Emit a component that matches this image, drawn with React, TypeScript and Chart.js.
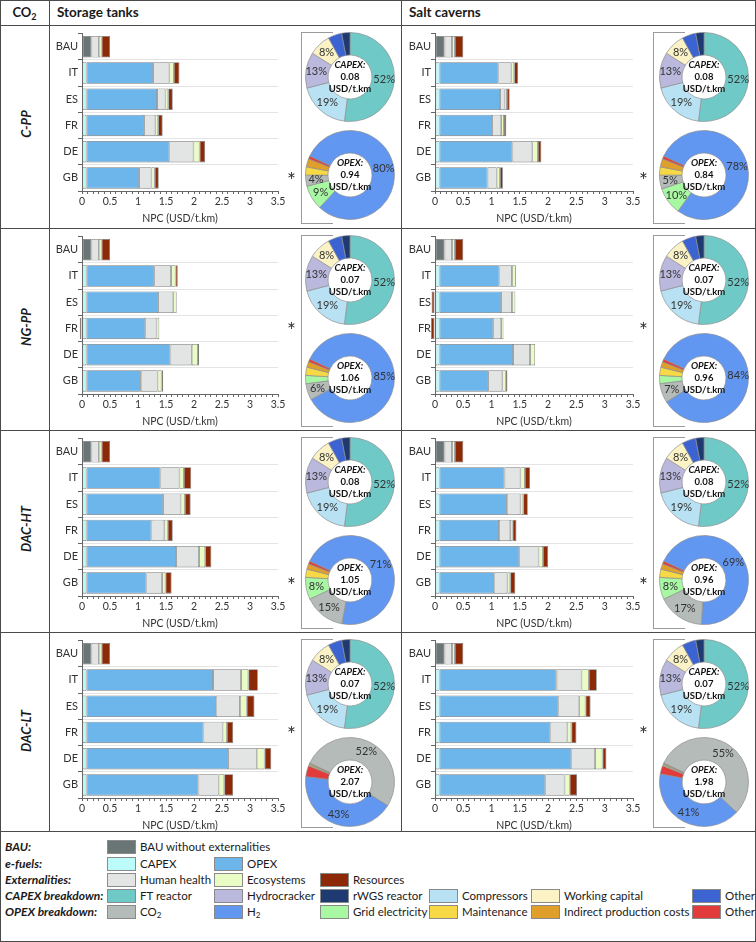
import React, { useEffect, useRef } from "react";
import { Chart, registerables } from "chart.js";

Chart.register(...registerables);

const FONT = "Lato, 'Open Sans', sans-serif";

const countries = ["BAU", "IT", "ES", "FR", "DE", "GB"];
const pathways = ["C-PP", "NG-PP", "DAC-HT", "DAC-LT"];
const storages = ["Storage tanks", "Salt caverns"];
const xTickMax = 3.5;

// BAU bar, identical in every panel
const bauBase = 0.17;
const bauHealth = 0.13;
const bauEco = 0.05;
const bauRes = 0.15;

// e-fuel bars, order: IT, ES, FR, DE, GB
const efuelCapex = [0.08, 0.08, 0.08, 0.08, 0.08];

const cppTankOpex = [1.19, 1.26, 1.03, 1.48, 0.94];
const cppTankHealth = [0.29, 0.15, 0.2, 0.43, 0.22];
const cppTankEco = [0.08, 0.05, 0.05, 0.11, 0.06];
const cppTankRes = [0.1, 0.08, 0.08, 0.1, 0.07];

const cppSaltOpex = [1.04, 1.07, 0.93, 1.29, 0.85];
const cppSaltHealth = [0.23, 0.08, 0.16, 0.35, 0.16];
const cppSaltEco = [0.05, 0.04, 0.05, 0.1, 0.06];
const cppSaltRes = [0.07, 0.05, 0.04, 0.06, 0.05];

const ngppTankOpex = [1.21, 1.28, 1.05, 1.5, 0.97];
const ngppTankHealth = [0.3, 0.27, 0.2, 0.38, 0.3];
const ngppTankEco = [0.08, 0.06, 0.05, 0.11, 0.07];
const ngppTankRes = [0.04, -0.01, -0.04, 0.02, 0.03];

const ngppSaltOpex = [1.06, 1.09, 0.95, 1.3, 0.86];
const ngppSaltHealth = [0.22, 0.19, 0.14, 0.3, 0.25];
const ngppSaltEco = [0.07, 0.06, 0.04, 0.09, 0.06];
const ngppSaltRes = [0, -0.06, -0.07, -0.01, 0.03];

const dachtTankOpex = [1.32, 1.37, 1.16, 1.6, 1.07];
const dachtTankHealth = [0.34, 0.31, 0.23, 0.41, 0.28];
const dachtTankEco = [0.08, 0.08, 0.06, 0.11, 0.06];
const dachtTankRes = [0.13, 0.1, 0.09, 0.11, 0.11];

const dachtSaltOpex = [1.15, 1.19, 1.05, 1.41, 0.96];
const dachtSaltHealth = [0.28, 0.24, 0.2, 0.34, 0.24];
const dachtSaltEco = [0.08, 0.05, 0.04, 0.08, 0.05];
const dachtSaltRes = [0.09, 0.08, 0.07, 0.09, 0.09];

const dacltTankOpex = [2.26, 2.31, 2.09, 2.53, 2.0];
const dacltTankHealth = [0.5, 0.43, 0.34, 0.51, 0.36];
const dacltTankEco = [0.13, 0.12, 0.08, 0.14, 0.1];
const dacltTankRes = [0.17, 0.14, 0.11, 0.12, 0.16];

const dacltSaltOpex = [2.07, 2.1, 1.96, 2.33, 1.87];
const dacltSaltHealth = [0.44, 0.37, 0.3, 0.42, 0.34];
const dacltSaltEco = [0.13, 0.11, 0.07, 0.13, 0.09];
const dacltSaltRes = [0.14, 0.09, 0.09, 0.07, 0.13];

// doughnuts: shares in %
const capexNames = ["FT reactor", "Hydrocracker", "rWGS reactor", "Compressors", "Working capital", "Other"];
const capexShares = [52, 13, 3, 19, 8, 5];
const capexTotals = [0.08, 0.08, 0.07, 0.07, 0.08, 0.08, 0.07, 0.07];

const opexNames = ["CO₂", "H₂", "Grid electricity", "Maintenance", "Indirect production costs", "Other"];
const cppTankOpexShares = [4, 80, 9, 3, 3, 1];
const cppSaltOpexShares = [5, 78, 10, 3, 3, 1];
const ngppTankOpexShares = [6, 85, 3, 3, 2, 1];
const ngppSaltOpexShares = [7, 84, 3, 3, 2, 1];
const dachtTankOpexShares = [15, 71, 8, 3, 2, 1];
const dachtSaltOpexShares = [17, 69, 8, 3, 2, 1];
const dacltTankOpexShares = [52, 43, 0.3, 0.4, 0.3, 4];
const dacltSaltOpexShares = [55, 41, 0.3, 0.4, 0.3, 3];
const opexTotals = [0.94, 0.84, 1.06, 0.96, 1.05, 0.96, 2.07, 1.98];

const barColors = {
  bau: "#6a7575",
  capex: "#bdfbfb",
  opex: "#6cb6ec",
  health: "#e3e5e5",
  eco: "#e8fcc4",
  res: "#8c2a08",
};
const capexColors = ["#6fcac7", "#bab8dd", "#1f3a70", "#b8e2f3", "#fbf3c6", "#3c63d2"];
const opexColors = ["#b5bbb9", "#6196f1", "#a8f7a3", "#f7d845", "#df9f2a", "#e23b3b"];

const panels = [
  [cppTankOpex, cppTankHealth, cppTankEco, cppTankRes, cppTankOpexShares],
  [cppSaltOpex, cppSaltHealth, cppSaltEco, cppSaltRes, cppSaltOpexShares],
  [ngppTankOpex, ngppTankHealth, ngppTankEco, ngppTankRes, ngppTankOpexShares],
  [ngppSaltOpex, ngppSaltHealth, ngppSaltEco, ngppSaltRes, ngppSaltOpexShares],
  [dachtTankOpex, dachtTankHealth, dachtTankEco, dachtTankRes, dachtTankOpexShares],
  [dachtSaltOpex, dachtSaltHealth, dachtSaltEco, dachtSaltRes, dachtSaltOpexShares],
  [dacltTankOpex, dacltTankHealth, dacltTankEco, dacltTankRes, dacltTankOpexShares],
  [dacltSaltOpex, dacltSaltHealth, dacltSaltEco, dacltSaltRes, dacltSaltOpexShares],
];

// layout
const rowTops = [25, 228, 430, 632];
const cols = [
  { left: 49, axisW: 32, padR: 23, bracketX: 301, cx: 349.5 },
  { left: 401, axisW: 33, padR: 20, bracketX: 653, cx: 703.5 },
];
const starAtOpex = [true, false, true, false];
const LINE = "#4a4a4a";

const withSub = (text: string) => {
  const parts = text.split("₂");
  if (parts.length === 1) return text;
  return (
    <>
      {parts[0]}
      <span style={{ fontSize: "0.7em", position: "relative", top: "0.3em" }}>2</span>
      {parts[1]}
    </>
  );
};

interface BarProps {
  x: number;
  y: number;
  axisW: number;
  padR: number;
  opex: number[];
  health: number[];
  eco: number[];
  res: number[];
}

const NpcBars = ({ x, y, axisW, padR, opex, health, eco, res }: BarProps) => {
  const chartRef = useRef<HTMLCanvasElement>(null);

  useEffect(() => {
    if (!chartRef.current) return;
    const common = {
      borderColor: "#7a7a7a",
      borderWidth: 0.8,
      borderSkipped: false,
      categoryPercentage: 1,
      barPercentage: 0.82,
      clip: false,
    };
    const tickFont = { family: FONT, size: 10.5 };
    const chart = new Chart(chartRef.current, {
      type: "bar",
      data: {
        labels: countries,
        datasets: [
          { ...common, label: "BAU without externalities", data: [bauBase, null, null, null, null, null], backgroundColor: barColors.bau },
          { ...common, label: "CAPEX", data: [null, ...efuelCapex], backgroundColor: barColors.capex },
          { ...common, label: "OPEX", data: [null, ...opex], backgroundColor: barColors.opex },
          { ...common, label: "Human health", data: [bauHealth, ...health], backgroundColor: barColors.health },
          { ...common, label: "Ecosystems", data: [bauEco, ...eco], backgroundColor: barColors.eco },
          { ...common, label: "Resources", data: [bauRes, ...res], backgroundColor: barColors.res },
        ],
      },
      options: {
        indexAxis: "y",
        animation: false,
        responsive: false,
        layout: { padding: { top: 4, right: padR, left: 0, bottom: 0 } },
        plugins: { legend: { display: false }, tooltip: { enabled: false } },
        scales: {
          x: {
            stacked: true,
            min: 0,
            max: xTickMax,
            ticks: {
              stepSize: 0.1,
              autoSkip: false,
              maxRotation: 0,
              padding: 1,
              color: "#333",
              font: tickFont,
              callback: (value: any) => {
                const v = Number(value);
                const r = Math.round(v * 2);
                return Math.abs(v * 2 - r) < 1e-6 ? String(r / 2) : "";
              },
            },
            grid: { drawOnChartArea: false, drawTicks: true, tickLength: 3, color: "#666" },
            border: { color: "#666", width: 1 },
            title: {
              display: true,
              text: "NPC (USD/t.km)",
              color: "#333",
              font: tickFont,
              padding: { top: 0, bottom: 2.5 },
            },
            afterFit: (scale: any) => {
              scale.height = 36;
            },
          },
          y: {
            stacked: true,
            ticks: { color: "#333", font: { family: FONT, size: 11 }, padding: 0 },
            grid: {
              offset: true,
              color: (c: any) => (c.index === 0 ? "rgba(0,0,0,0)" : "#e4e4e4"),
              tickColor: "#666",
              tickLength: 4,
            },
            border: { color: "#666", width: 1 },
            afterFit: (scale: any) => {
              scale.width = axisW;
            },
          },
        },
      },
    });
    return () => chart.destroy();
  }, []);

  return (
    <canvas
      ref={chartRef}
      width={251}
      height={200}
      style={{ position: "absolute", left: x, top: y }}
    />
  );
};

interface DonutProps {
  cx: number;
  cy: number;
  kind: string;
  total: number;
  names: string[];
  shares: number[];
  colors: string[];
  minLabel: number;
  rotation: number;
}

const CostDonut = ({ cx, cy, kind, total, names, shares, colors, minLabel, rotation }: DonutProps) => {
  const chartRef = useRef<HTMLCanvasElement>(null);

  useEffect(() => {
    if (!chartRef.current) return;
    // slices drawn largest first, clockwise
    const order = shares.map((_, i) => i).sort((a, b) => shares[b] - shares[a]);
    const labelPlugin = {
      id: "donutText",
      afterDatasetsDraw(chart: any) {
        const { ctx } = chart;
        const meta = chart.getDatasetMeta(0);
        ctx.save();
        ctx.textAlign = "center";
        ctx.textBaseline = "middle";
        ctx.fillStyle = "#333";
        ctx.font = `11px ${FONT}`;
        meta.data.forEach((arc: any, k: number) => {
          const i = order[k];
          if (shares[i] < minLabel || names[i] === "Other") return;
          const p = arc.getProps(["x", "y", "startAngle", "endAngle", "innerRadius", "outerRadius"], true);
          const a = (p.startAngle + p.endAngle) / 2;
          const r = (p.innerRadius + p.outerRadius) / 2 + 1;
          ctx.fillText(`${Math.round(shares[i])}%`, p.x + Math.cos(a) * r, p.y + Math.sin(a) * r);
        });
        const c = meta.data[0];
        const cxp = c.x;
        const cyp = c.y;
        ctx.fillStyle = "#111";
        ctx.font = `italic bold 9.5px ${FONT}`;
        ctx.fillText(`${kind}:`, cxp, cyp - 12);
        ctx.font = `bold 9.5px ${FONT}`;
        ctx.fillText(total.toFixed(2), cxp, cyp);
        ctx.fillText("USD/t.km", cxp, cyp + 12);
        ctx.restore();
      },
    };
    const chart = new Chart(chartRef.current, {
      type: "doughnut",
      data: {
        labels: order.map((i) => names[i]),
        datasets: [
          {
            data: order.map((i) => shares[i]),
            backgroundColor: order.map((i) => colors[i]),
            borderColor: "#8f8f8f",
            borderWidth: 0.7,
          },
        ],
      },
      options: {
        animation: false,
        responsive: false,
        radius: 44.5,
        cutout: 24.5,
        rotation,
        layout: { padding: 0 },
        plugins: { legend: { display: false }, tooltip: { enabled: false } },
      },
      plugins: [labelPlugin],
    });
    return () => chart.destroy();
  }, []);

  return (
    <canvas
      ref={chartRef}
      width={100}
      height={100}
      style={{ position: "absolute", left: cx - 50, top: cy - 50 }}
    />
  );
};

const legendCols = [107, 214, 320, 429, 531, 692];
const legendRows = [
  { title: "BAU:", items: [["BAU without externalities", barColors.bau]] },
  { title: "e-fuels:", items: [["CAPEX", barColors.capex], ["OPEX", barColors.opex]] },
  {
    title: "Externalities:",
    items: [["Human health", barColors.health], ["Ecosystems", barColors.eco], ["Resources", barColors.res]],
  },
  { title: "CAPEX breakdown:", items: capexNames.map((n, i) => [n, capexColors[i]]) },
  { title: "OPEX breakdown:", items: opexNames.map((n, i) => [n, opexColors[i]]) },
];
const legendRowY = [847, 864, 880, 896, 912];

const hLine = (y: number, x0 = 0, x1 = 756) => (
  <div key={`h${y}`} style={{ position: "absolute", left: x0, top: y, width: x1 - x0, height: 1, background: LINE }} />
);
const vLine = (x: number, y0: number, y1: number) => (
  <div key={`v${x}`} style={{ position: "absolute", left: x, top: y0, width: 1, height: y1 - y0, background: LINE }} />
);

export default function App() {
  return (
    <div
      style={{
        position: "relative",
        width: 756,
        height: 942,
        background: "#fff",
        fontFamily: FONT,
        color: "#1a1a1a",
        overflow: "hidden",
      }}
    >
      <style>{"body{margin:0}"}</style>
      <div
        style={{
          position: "absolute",
          left: 0,
          top: 0,
          width: 756,
          height: 942,
          border: `1px solid ${LINE}`,
          boxSizing: "border-box",
        }}
      />
      {[25, 228, 430, 632, 831].map((y) => hLine(y))}
      {vLine(49, 0, 831)}
      {vLine(401, 0, 831)}

      <div style={{ position: "absolute", left: 0, width: 49, top: 4, textAlign: "center", fontWeight: 700, fontSize: 13 }}>
        {withSub("CO₂")}
      </div>
      {storages.map((s, c) => (
        <div key={s} style={{ position: "absolute", left: cols[c].left + 8, top: 4, fontWeight: 700, fontSize: 13.5 }}>
          {s}
        </div>
      ))}

      {pathways.map((p, r) => (
        <div
          key={p}
          style={{
            position: "absolute",
            left: 26,
            top: rowTops[r] + 99,
            transform: "translate(-50%, -50%) rotate(-90deg)",
            whiteSpace: "nowrap",
            fontWeight: 700,
            fontStyle: "italic",
            fontSize: 13,
          }}
        >
          {p}
        </div>
      ))}

      {pathways.map((p, r) =>
        cols.map((col, c) => {
          const k = r * 2 + c;
          const [opex, health, eco, res, opexShares] = panels[k];
          const top = rowTops[r];
          const bottom = r === 3 ? top + 194 : top + 197;
          return (
            <React.Fragment key={`${p}-${c}`}>
              <NpcBars
                x={col.left + 1}
                y={top + 2}
                axisW={col.axisW}
                padR={col.padR}
                opex={opex}
                health={health}
                eco={eco}
                res={res}
              />
              <div
                style={{
                  position: "absolute",
                  left: col.bracketX,
                  top: top + 7,
                  width: 31,
                  height: bottom - top - 7,
                  borderLeft: "1px solid #9a9a9a",
                  borderTop: "1px solid #9a9a9a",
                  borderBottom: "1px solid #9a9a9a",
                }}
              />
              <div
                style={{
                  position: "absolute",
                  left: col.bracketX - 14,
                  top: (starAtOpex[r] ? top + 155 : top + 102) - 10,
                  fontSize: 21,
                  lineHeight: "20px",
                  color: "#333",
                }}
              >
                *
              </div>
              <CostDonut
                cx={col.cx}
                cy={top + 52}
                kind="CAPEX"
                total={capexTotals[k]}
                names={capexNames}
                shares={capexShares}
                colors={capexColors}
                minLabel={8}
                rotation={0}
              />
              <CostDonut
                cx={col.cx}
                cy={top + 150}
                kind="OPEX"
                total={opexTotals[k]}
                names={opexNames}
                shares={opexShares}
                colors={opexColors}
                minLabel={4}
                rotation={-65}
              />
            </React.Fragment>
          );
        })
      )}

      {legendRows.map((row, r) => (
        <React.Fragment key={row.title}>
          <div
            style={{
              position: "absolute",
              left: 5,
              top: legendRowY[r] - 8,
              fontWeight: 700,
              fontStyle: "italic",
              fontSize: 12,
              lineHeight: "16px",
              whiteSpace: "nowrap",
            }}
          >
            {row.title}
          </div>
          {row.items.map(([name, color], i) => (
            <React.Fragment key={`${row.title}-${name}`}>
              <div
                style={{
                  position: "absolute",
                  left: legendCols[i],
                  top: legendRowY[r] - 7,
                  width: 29,
                  height: 14,
                  background: color,
                  border: "1px solid #8a8a8a",
                  boxSizing: "border-box",
                }}
              />
              <div
                style={{
                  position: "absolute",
                  left: legendCols[i] + 33,
                  top: legendRowY[r] - 8,
                  fontSize: 11.5,
                  lineHeight: "16px",
                  whiteSpace: "nowrap",
                }}
              >
                {withSub(name)}
              </div>
            </React.Fragment>
          ))}
        </React.Fragment>
      ))}
    </div>
  );
}
